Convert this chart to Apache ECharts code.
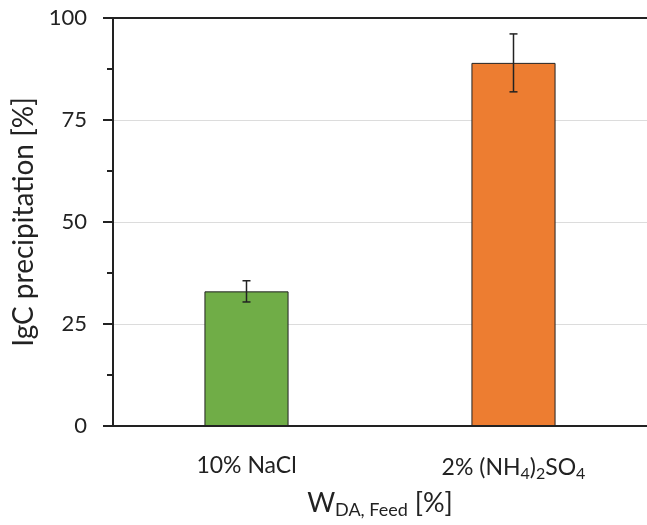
<!DOCTYPE html>
<html>
<head>
<meta charset="utf-8">
<script src="https://cdn.jsdelivr.net/npm/echarts@6/dist/echarts.min.js"></script>
<style>html,body{margin:0;padding:0;background:#fff}#c{width:647px;height:525px}</style>
</head>
<body>
<div id="c"></div>
<script>
var categories = ['10% NaCl', '2% (NH4)2SO4'];
var values = [33, 89];
var errors = [2.6, 7.1];
var colors = ['#70AD47', '#ED7D31'];
var yTicks = [0, 25, 50, 75, 100];

var FONT = 'Lato';
var chart = echarts.init(document.getElementById('c'));
var errData = values.map(function (v, i) { return [i, v - errors[i], v + errors[i]]; });

chart.setOption({
  backgroundColor: '#fff',
  animation: false,
  grid: { left: 113, right: 0, top: 18, bottom: 99, containLabel: false, outerBoundsMode: 'none' },
  xAxis: [{
    type: 'category',
    data: categories,
    axisLine: { show: true, lineStyle: { color: '#222', width: 2 } },
    axisTick: { show: false },
    axisLabel: {
      interval: 0,
      margin: 28,
      fontFamily: FONT, fontSize: 23, color: '#222',
      formatter: function (v) {
        if (v.indexOf('NH4') >= 0) return '{n|2% (NH}{s|4}{n|)}{s|2}{n|SO}{s|4}';
        return '{n|' + v + '}';
      },
      rich: {
        n: { fontFamily: FONT, fontSize: 23, color: '#222' },
        s: { fontFamily: FONT, fontSize: 16, color: '#222', padding: [12, 0, 0, 0] }
      }
    },
    name: '{w|W}{s|DA, Feed}{w| [%]}',
    nameLocation: 'middle',
    nameGap: 61,
    nameTextStyle: {
      rich: {
        w: { fontFamily: FONT, fontSize: 27, color: '#222' },
        s: { fontFamily: FONT, fontSize: 18, color: '#222', padding: [14, 0, 0, 0] }
      }
    }
  }, {
    type: 'category',
    position: 'top',
    data: categories,
    axisLine: { show: true, lineStyle: { color: '#222', width: 2 } },
    axisTick: { show: false },
    axisLabel: { show: false }
  }],
  yAxis: {
    type: 'value',
    min: 0, max: 100, interval: 25,
    axisLine: { show: true, lineStyle: { color: '#222', width: 2 } },
    axisTick: { show: true, inside: false, length: 10, lineStyle: { color: '#222', width: 2 } },
    minorTick: { show: true, splitNumber: 2, length: 6, lineStyle: { color: '#222', width: 2 } },
    splitLine: { show: true, lineStyle: { color: '#dcdcdc', width: 1 } },
    axisLabel: { margin: 26, fontFamily: FONT, fontSize: 22, color: '#222' },
    name: 'IgC precipitation [%]',
    nameLocation: 'middle',
    nameRotate: 90,
    nameGap: 74,
    nameTextStyle: { fontFamily: FONT, fontSize: 28, color: '#222' }
  },
  series: [{
    type: 'bar',
    barWidth: '31.5%',
    data: values.map(function (v, i) {
      return { value: v, itemStyle: { color: colors[i], borderColor: '#222', borderWidth: 1 } };
    })
  }, {
    type: 'custom',
    data: errData,
    z: 10,
    renderItem: function (params, api) {
      var x = api.value(0);
      var lo = api.coord([x, api.value(1)]);
      var hi = api.coord([x, api.value(2)]);
      var cap = 4;
      var st = { stroke: '#222', lineWidth: 1.5 };
      return {
        type: 'group',
        children: [
          { type: 'line', shape: { x1: lo[0], y1: lo[1], x2: hi[0], y2: hi[1] }, style: st },
          { type: 'line', shape: { x1: lo[0] - cap, y1: lo[1], x2: lo[0] + cap, y2: lo[1] }, style: st },
          { type: 'line', shape: { x1: hi[0] - cap, y1: hi[1], x2: hi[0] + cap, y2: hi[1] }, style: st }
        ]
      };
    }
  }]
});
</script>
</body>
</html>
